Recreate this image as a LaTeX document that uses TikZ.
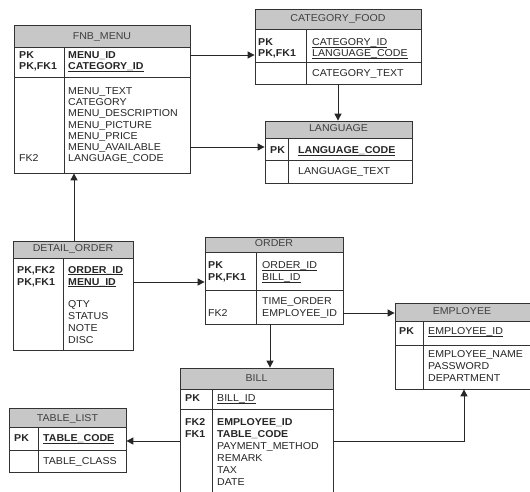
\documentclass[tikz,border=0pt]{standalone}
\usepackage{fontspec}
\setmainfont{Liberation Sans}[FakeStretch=1.06]
\usetikzlibrary{arrows.meta,fit}
\tikzset{
  tbox/.style={draw=black!80, line width=0.8pt, inner sep=0pt, fit={#1}},
  hdr/.style={fill=black!22},
  rule/.style={draw=black!80, line width=0.8pt},
  conn/.style={draw=black!85, line width=1pt, -{Triangle[length=7pt,width=7pt]}},
  txt/.style={inner sep=0pt, anchor=base west, text=black!85, font=\fontsize{10}{12}\selectfont},
  ttl/.style={txt, anchor=base, text=black!75},
}
\newcommand\ulx[1]{\setbox0\hbox{#1}\rlap{\rule[-1.7pt]{\wd0}{0.6pt}}\box0}
% name, x1, y1, x2, y2, header bottom, key bottom (or empty), column divider
\newcommand\ertab[8]{%
  \fill[hdr] (#2,#3) rectangle (#4,#6);
  \draw[rule] (#2,#6) -- (#4,#6);
  \ifx\relax#7\relax\else\draw[rule] (#2,#7) -- (#4,#7);\fi
  \draw[rule] (#8,#6) -- (#8,#5);
  \node[tbox={(#2,#3) (#4,#5)}] (#1) {};
}
% prefix, x, first baseline, step, items
\newcommand\ertxt[5]{%
  \foreach \t [count=\i from 0] in {#5} {\node[txt] (#1\i) at (#2, #3+#4*\i) {\t};}%
}
\begin{document}
\begin{tikzpicture}[x=1pt,y=-1pt]
\useasboundingbox (0,0) rectangle (530,491);
\fill[white] (0,0) rectangle (530,491);
\clip (0,0) rectangle (530,491);

% FNB_MENU
\ertab{fnb}{14}{25}{190}{173}{47}{77}{64}
\node[ttl] (fnbt) at (102,39.5) {FNB\_MENU};
\ertxt{fnbk}{19}{58.5}{11}{\textbf{PK},\textbf{PK,FK1}}
\node[txt] (fnbfk) at (19,161.7) {FK2};
\node[txt] (fnba) at (68,58.5) {\textbf{MENU\_ID}};
\node[txt] (fnbb) at (68,69.5) {\ulx{\textbf{CATEGORY\_ID}}};
\ertxt{fnbc}{68}{94.5}{11.2}{MENU\_TEXT,CATEGORY,MENU\_DESCRIPTION,MENU\_PICTURE,MENU\_PRICE,MENU\_AVAILABLE,LANGUAGE\_CODE}

% CATEGORY_FOOD
\ertab{cat}{255}{9}{421}{84}{29}{62}{306}
\node[ttl] (catt) at (338,21.5) {CATEGORY\_FOOD};
\node[txt] (catk1) at (258,45.5) {\textbf{PK}};
\node[txt] (catk2) at (258,56.5) {\textbf{PK,FK1}};
\node[txt] (cata) at (312,45.5) {\ulx{CATEGORY\_ID}};
\node[txt] (catb) at (312,56.5) {\ulx{LANGUAGE\_CODE}};
\node[txt] (catc) at (312,76.5) {CATEGORY\_TEXT};

% LANGUAGE
\ertab{lang}{265}{121}{412}{183}{138}{160}{288}
\node[ttl] (langt) at (338.5,131.5) {LANGUAGE};
\node[txt] (langk) at (270,153.5) {\textbf{PK}};
\node[txt] (langa) at (298,153.5) {\ulx{\textbf{LANGUAGE\_CODE}}};
\node[txt] (langb) at (298,174.5) {LANGUAGE\_TEXT};

% DETAIL_ORDER
\ertab{det}{13}{241}{133}{350}{258}{}{63}
\node[ttl] (dett) at (73,251.5) {DETAIL\_ORDER};
\node[txt] (detk1) at (17,273) {\textbf{PK,FK2}};
\node[txt] (detk2) at (17,285) {\textbf{PK,FK1}};
\node[txt] (deta) at (68,273) {\ulx{\textbf{ORDER\_ID}}};
\node[txt] (detb) at (68,285) {\ulx{\textbf{MENU\_ID}}};
\ertxt{detc}{68}{307.5}{12}{QTY,STATUS,NOTE,DISC}

% ORDER
\ertab{ord}{205}{237}{343}{324}{252}{290}{256}
\node[ttl] (ordt) at (274,246.5) {ORDER};
\node[txt] (ordk1) at (208,268.5) {\textbf{PK}};
\node[txt] (ordk2) at (208,280.5) {\textbf{PK,FK1}};
\node[txt] (ordfk) at (208,316.5) {FK2};
\node[txt] (orda) at (262,268.5) {\ulx{ORDER\_ID}};
\node[txt] (ordb) at (262,280.5) {\ulx{BILL\_ID}};
\node[txt] (ordc) at (262,304) {TIME\_ORDER};
\node[txt] (ordd) at (262,316.5) {EMPLOYEE\_ID};

% EMPLOYEE
\ertab{emp}{395}{303}{533}{389}{321}{345}{423}
\node[ttl] (empt) at (462,314.5) {EMPLOYEE};
\node[txt] (empk) at (399,334.5) {\textbf{PK}};
\node[txt] (empa) at (428,334.5) {\ulx{EMPLOYEE\_ID}};
\ertxt{empc}{428}{357.5}{12}{EMPLOYEE\_NAME,PASSWORD,DEPARTMENT}

% BILL
\ertab{bill}{180}{368}{333}{500}{389}{409}{212}
\node[ttl] (billt) at (256.5,381.5) {BILL};
\node[txt] (billk) at (185,401.5) {\textbf{PK}};
\node[txt] (billfk2) at (185,425.5) {\textbf{FK2}};
\node[txt] (billfk1) at (185,437.5) {\textbf{FK1}};
\node[txt] (billa) at (217,401.5) {\ulx{BILL\_ID}};
\node[txt] (billb) at (217,425.5) {\textbf{EMPLOYEE\_ID}};
\node[txt] (billc) at (217,437.5) {\textbf{TABLE\_CODE}};
\ertxt{billd}{217}{449.5}{12}{PAYMENT\_METHOD,REMARK,TAX,DATE}

% TABLE_LIST
\ertab{tab}{9}{408}{126}{472}{427}{450}{38}
\node[ttl] (tabt) at (67.5,421.5) {TABLE\_LIST};
\node[txt] (tabk) at (14,441.5) {\textbf{PK}};
\node[txt] (taba) at (43,441.5) {\ulx{\textbf{TABLE\_CODE}}};
\node[txt] (tabb) at (43,464.5) {TABLE\_CLASS};

% connectors
\draw[conn] (fnb.east |- 0,55) -- (cat.west |- 0,55);
\draw[conn] (cat.south -| 338,0) -- (lang.north -| 338,0);
\draw[conn] (fnb.east |- 0,147) -- (lang.west |- 0,147);
\draw[conn] (det.north -| 74,0) -- (fnb.south -| 74,0);
\draw[conn] (det.east |- 0,282) -- (ord.west |- 0,282);
\draw[conn] (ord.east |- 0,313) -- (emp.west |- 0,313);
\draw[conn] (ord.south -| 270,0) -- (bill.north -| 270,0);
\draw[conn] (bill.west |- 0,441) -- (tab.east |- 0,441);
\draw[conn] (bill.east |- 0,441) -| (emp.south -| 464,0);
\end{tikzpicture}
\end{document}
